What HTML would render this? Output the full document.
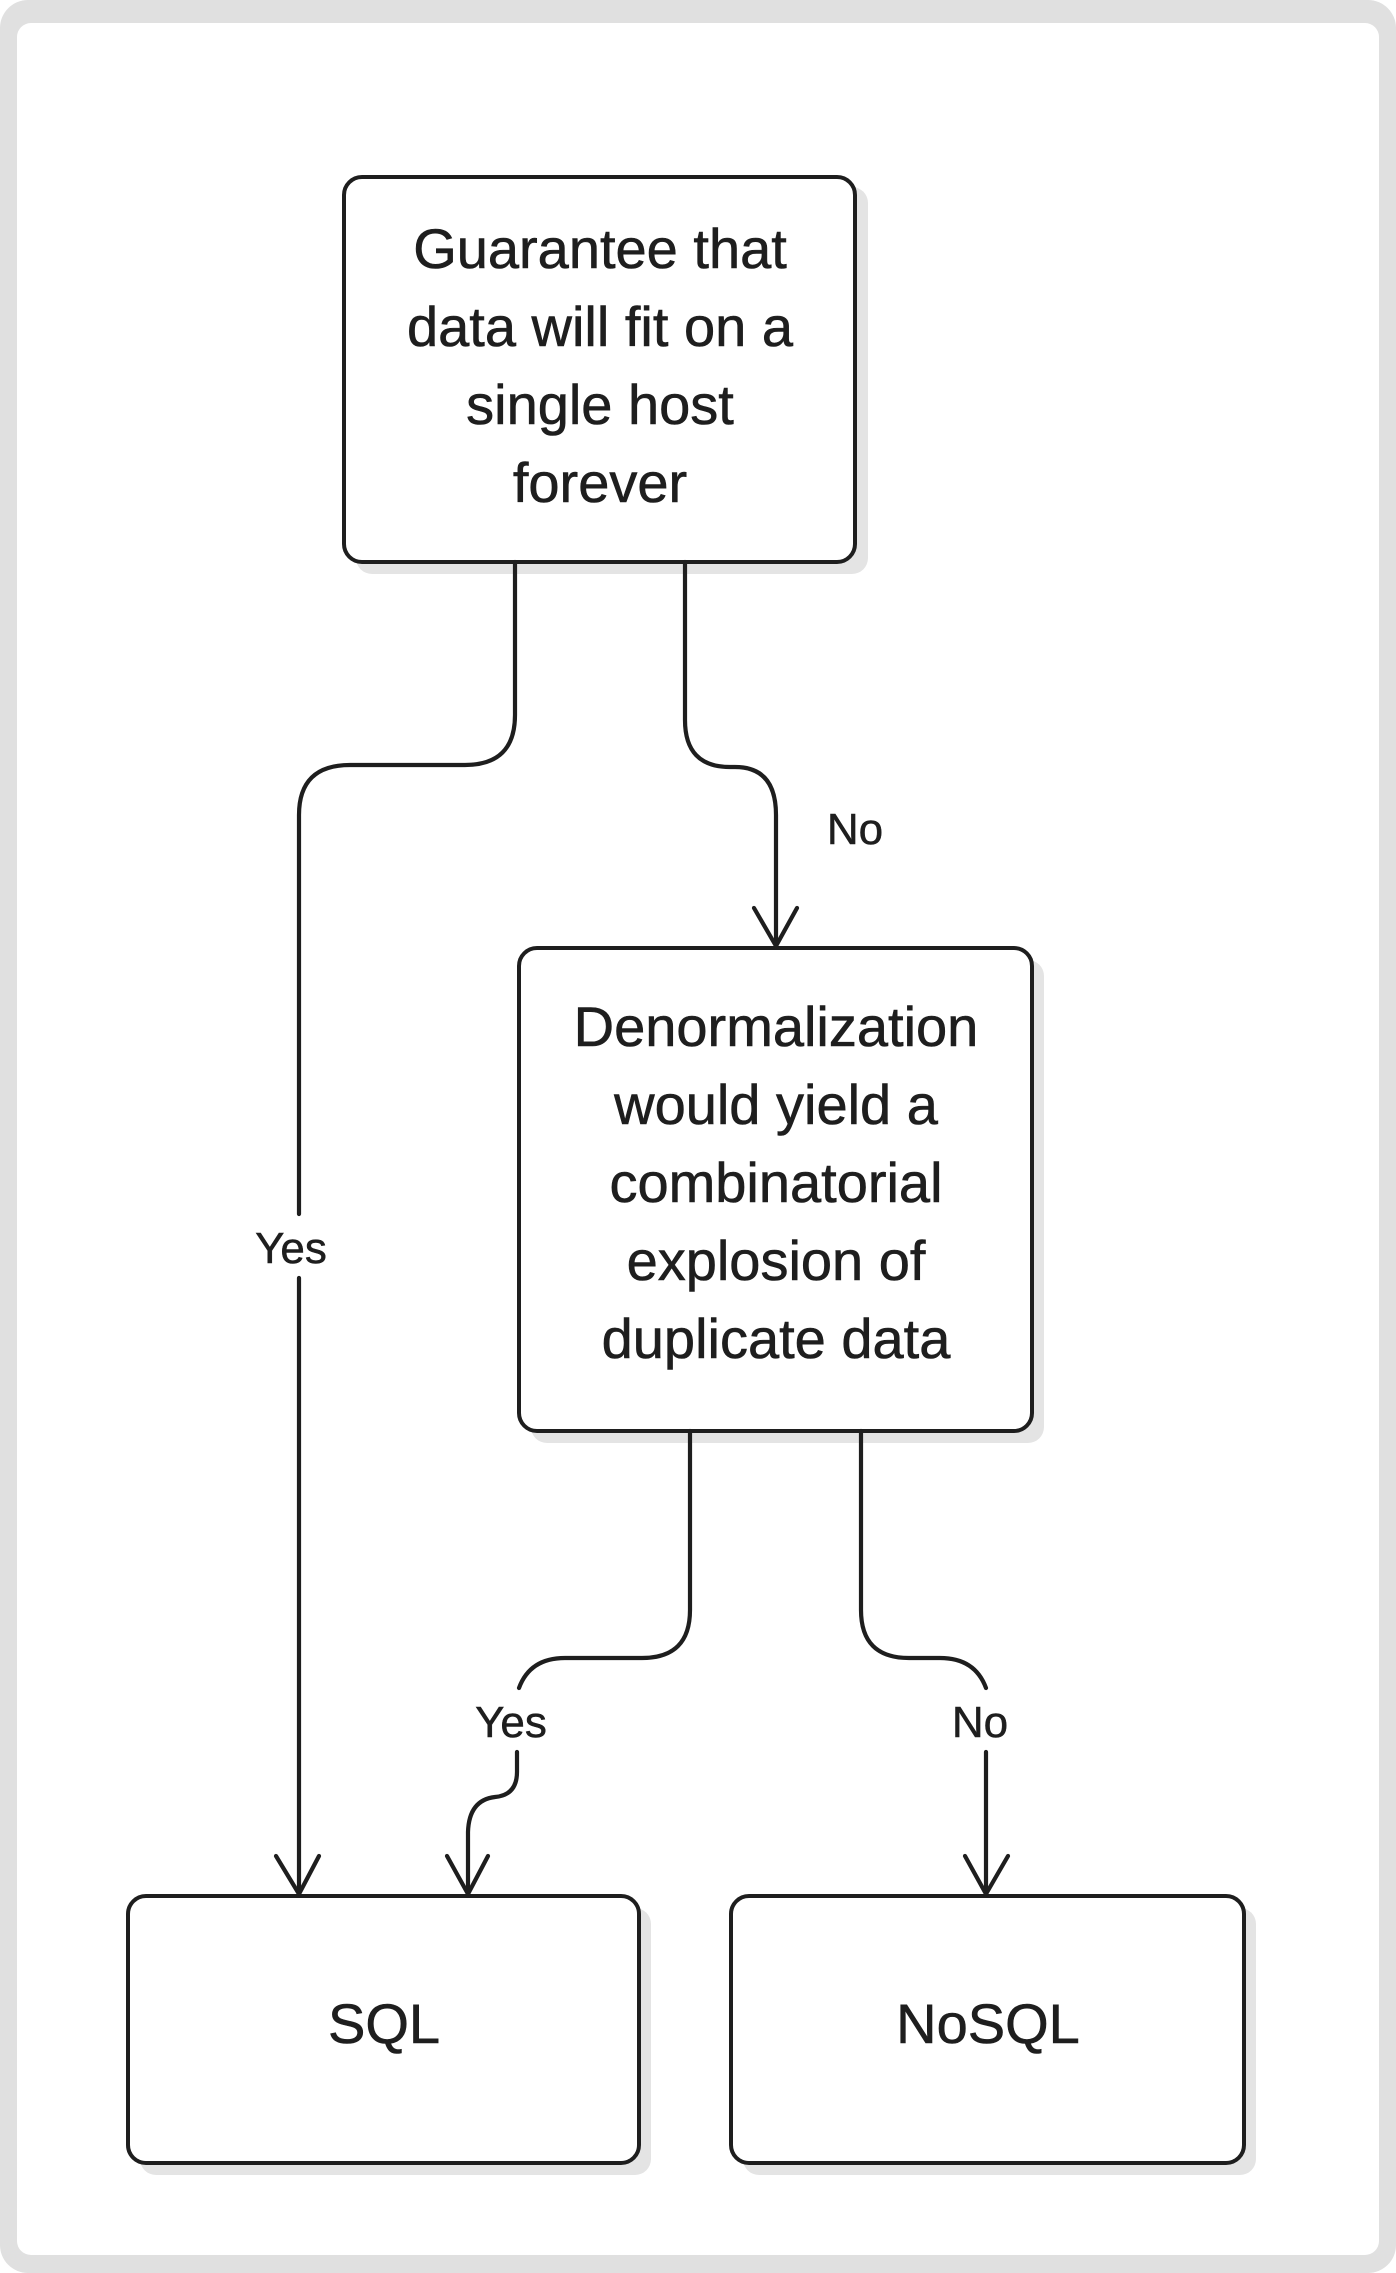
<!DOCTYPE html>
<html><head><meta charset="utf-8"><style>
html,body{margin:0;padding:0;background:#fff}
body{width:1396px;height:2273px;overflow:hidden}
svg{display:block}
text{font-family:"Liberation Sans",sans-serif;fill:#1e1e1e}
</style></head><body>
<svg width="1396" height="2273" viewBox="0 0 1396 2273" xmlns="http://www.w3.org/2000/svg">
<rect x="0" y="0" width="1396" height="2273" rx="28" fill="#e0e0e0"/>
<rect x="17" y="23" width="1362" height="2232" rx="14" fill="#fff"/>
<g fill="#e4e4e4">
<rect x="356" y="187" width="512" height="387" rx="16"/>
<rect x="531" y="960" width="513" height="483" rx="16"/>
<rect x="140" y="1908" width="511" height="267" rx="16"/>
<rect x="743" y="1908" width="513" height="267" rx="16"/>
</g>
<g fill="#fff" stroke="#1e1e1e" stroke-width="4">
<rect x="344" y="177" width="511" height="385" rx="18"/>
<rect x="519" y="948" width="513" height="483" rx="18"/>
<rect x="128" y="1896" width="511" height="267" rx="18"/>
<rect x="731" y="1896" width="513" height="267" rx="18"/>
</g>
<g fill="none" stroke="#1e1e1e" stroke-width="4.2" stroke-linecap="round" stroke-linejoin="round">
<path d="M515 562 V715 Q515 765 465 765 H350 Q299 765 299 815 V1214"/>
<path d="M299 1278 V1894"/>
<path d="M276 1856 L299 1894 L319 1856"/>
<path d="M685 562 V720 Q685 767 730 767 H735 Q776 767 776 815 V946"/>
<path d="M754 908 L776 946 L797 908"/>
<path d="M690 1431 V1610 Q690 1658 642 1658 H565 Q530 1658 519 1688"/>
<path d="M517 1752 V1772 Q517 1795 495 1797 Q469 1800 468 1832 V1894"/>
<path d="M447 1856 L468 1894 L488 1856"/>
<path d="M861 1431 V1610 Q861 1658 909 1658 H940 Q975 1658 986 1688"/>
<path d="M986 1752 V1894"/>
<path d="M965 1856 L986 1894 L1008 1856"/>
</g>
<g font-size="56" text-anchor="middle" stroke="#1e1e1e" stroke-width="0.6">
<text x="600" y="268">Guarantee that</text>
<text x="600" y="346">data will fit on a</text>
<text x="600" y="424">single host</text>
<text x="600" y="502">forever</text>
<text x="776" y="1046">Denormalization</text>
<text x="776" y="1124">would yield a</text>
<text x="776" y="1202">combinatorial</text>
<text x="776" y="1280">explosion of</text>
<text x="776" y="1358">duplicate data</text>
<text x="384" y="2043">SQL</text>
<text x="988" y="2043">NoSQL</text>
</g>
<g font-size="44" text-anchor="middle" stroke="#1e1e1e" stroke-width="0.5">
<text x="291" y="1263">Yes</text>
<text x="855" y="844">No</text>
<text x="511" y="1737">Yes</text>
<text x="980" y="1737">No</text>
</g>
</svg>
</body></html>
